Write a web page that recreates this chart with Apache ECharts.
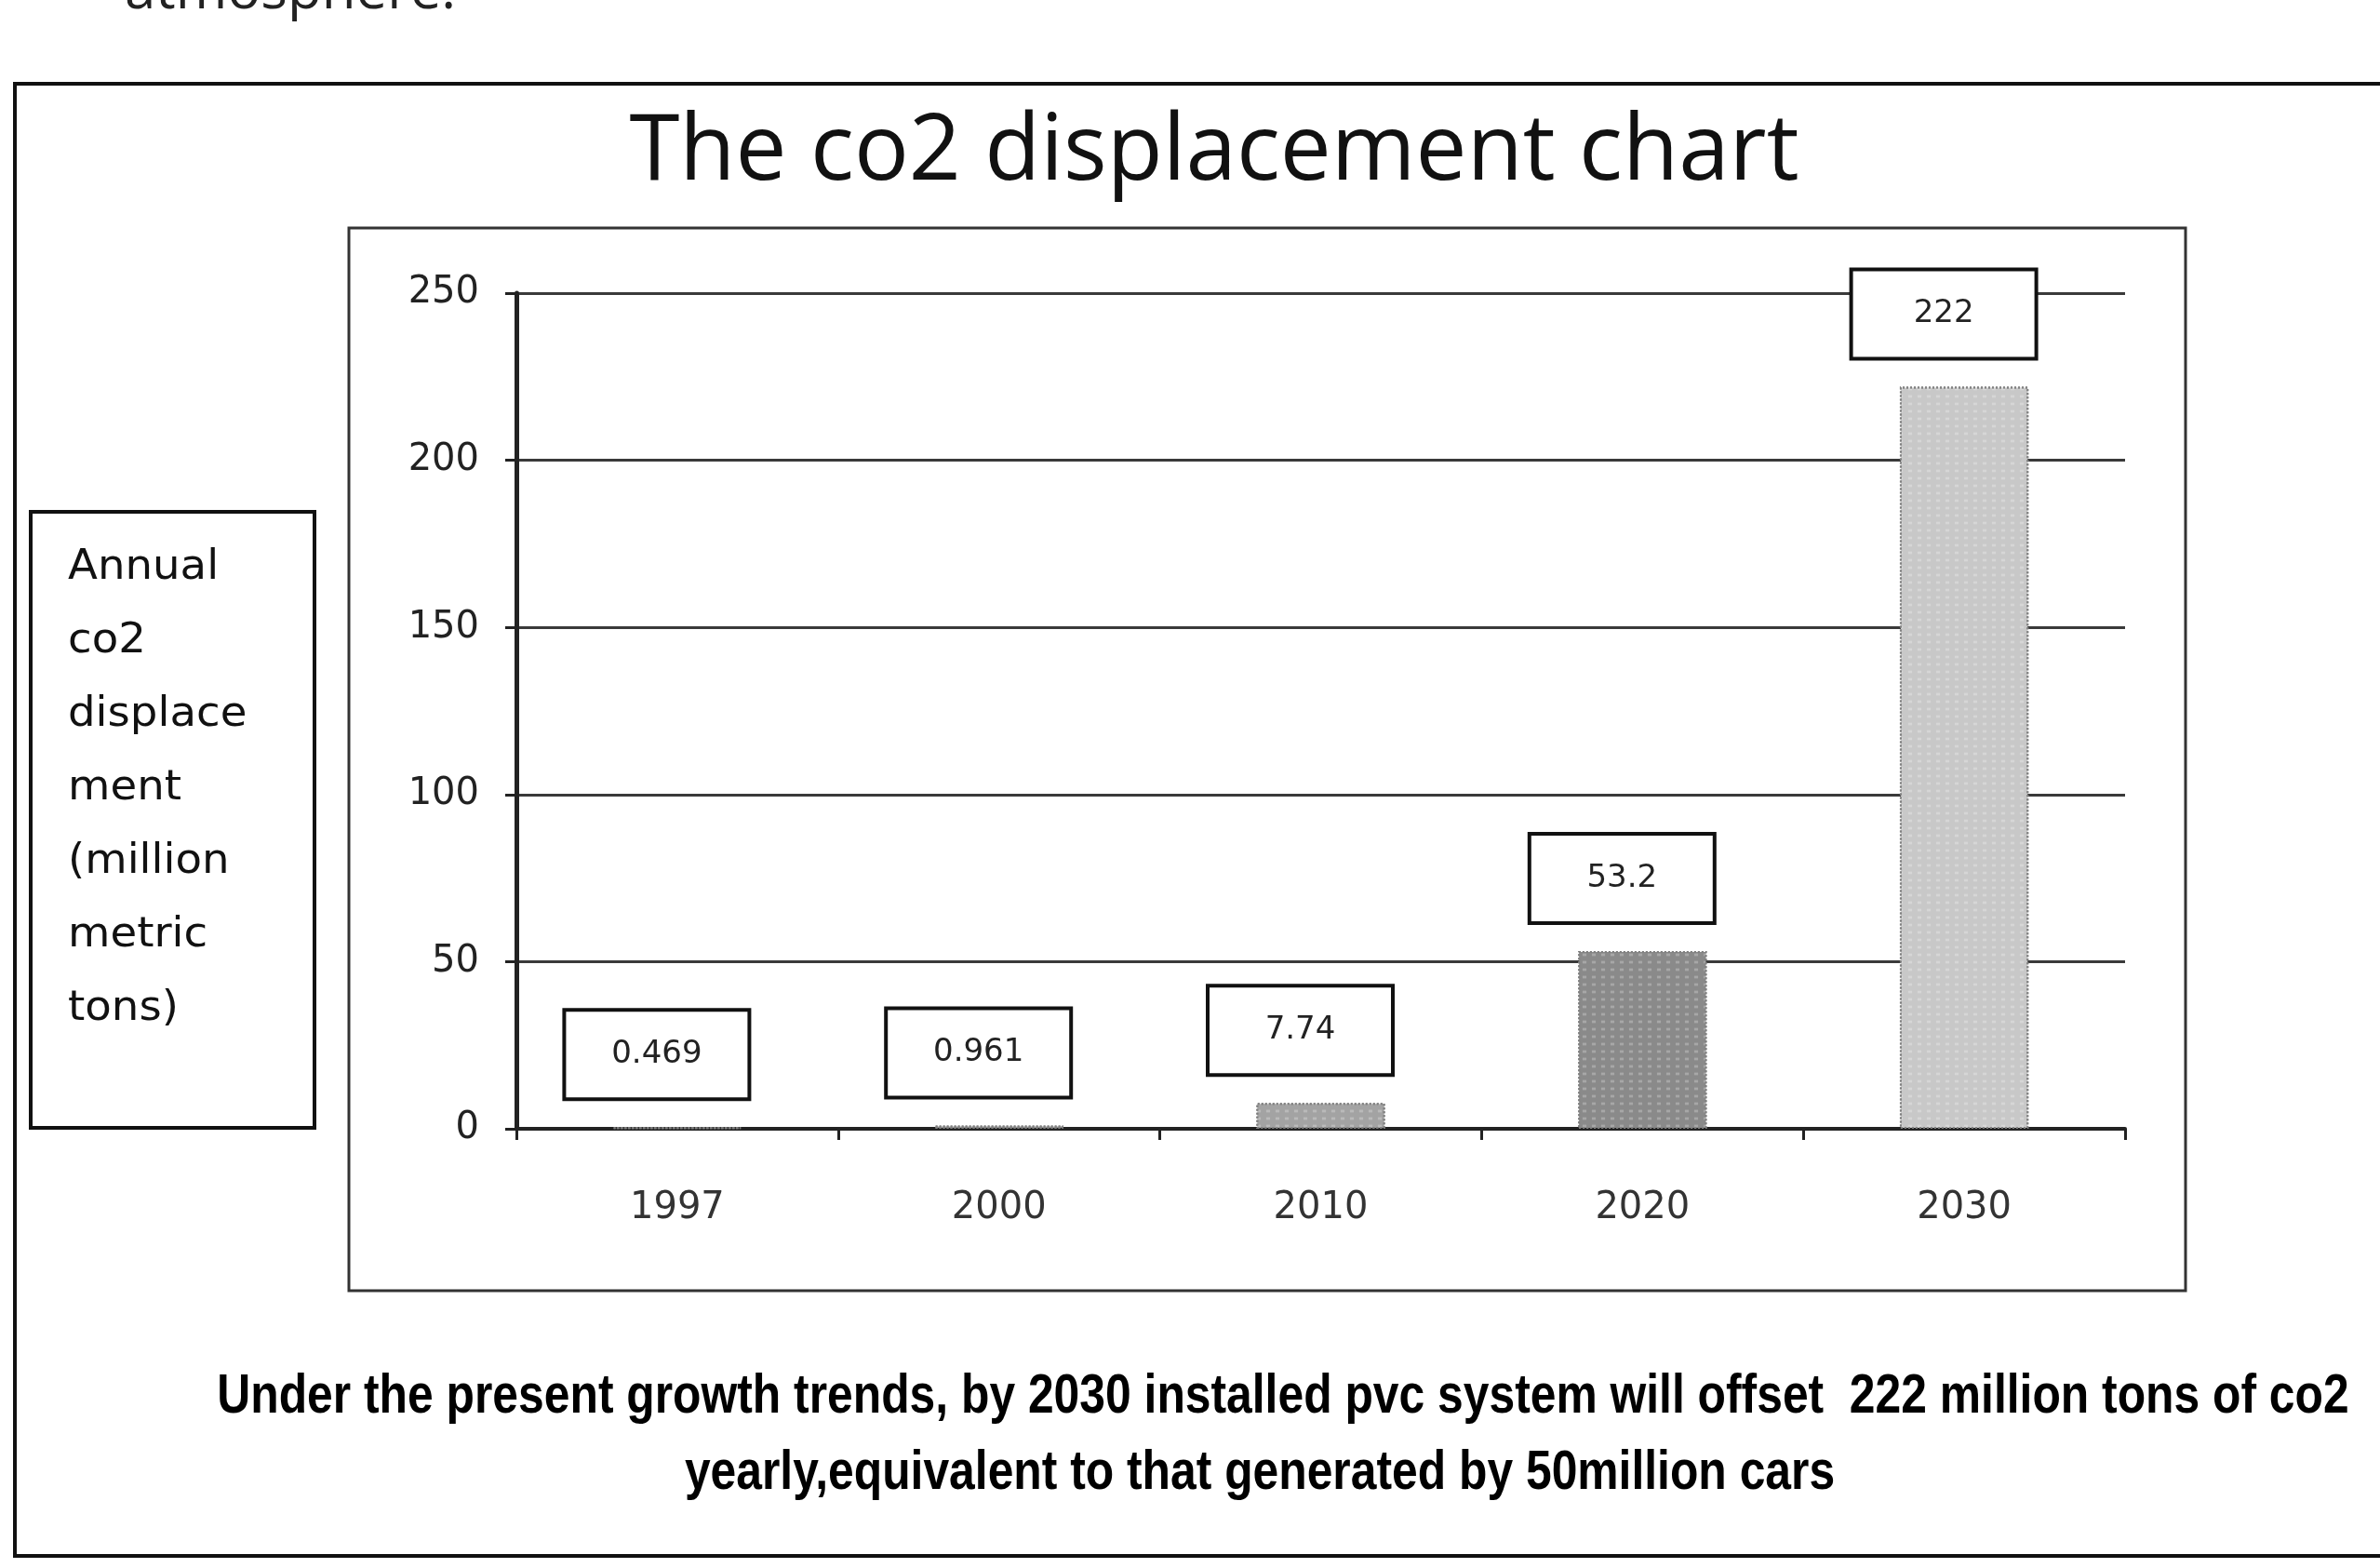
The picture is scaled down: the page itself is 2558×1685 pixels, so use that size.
<!DOCTYPE html>
<html>
<head>
<meta charset="utf-8">
<script src="https://cdn.jsdelivr.net/npm/echarts@6/dist/echarts.min.js"></script>
<style>
  html, body { margin: 0; padding: 0; background: #fff; }
  #main { width: 2558px; height: 1685px; }
</style>
</head>
<body>
<div id="main"></div>
<script>
// data
var years = ['1997', '2000', '2010', '2020', '2030'];
var displacement = [0.469, 0.961, 7.74, 53.2, 222];
var yTicks = [0, 50, 100, 150, 200, 250];

// bar fills (scan looks grey / dotted)
var barColors = ['#9a9a9a', '#9a9a9a', '#a3a3a3', '#8a8a8a', '#c8c8c8'];

var chart = echarts.init(document.getElementById('main'));

var option = {
  backgroundColor: '#fff',
  animation: false,
  grid: {
    left: 555,
    right: 274,
    top: 315,
    bottom: 472
  },
  xAxis: {
    type: 'category',
    data: years,
    axisLine: { lineStyle: { color: '#222', width: 4 } },
    axisTick: { show: true, length: 12, lineStyle: { color: '#222', width: 3 } },
    axisLabel: {
      margin: 66,
      fontSize: 40,
      fontFamily: 'DejaVu Sans',
      color: '#333'
    }
  },
  yAxis: {
    type: 'value',
    min: yTicks[0],
    max: yTicks[yTicks.length - 1],
    interval: 50,
    axisLine: { show: true, lineStyle: { color: '#222', width: 5 } },
    axisTick: { show: true, length: 12, lineStyle: { color: '#222', width: 3 } },
    axisLabel: {
      margin: 40,
      fontSize: 40,
      fontFamily: 'DejaVu Sans',
      color: '#222'
    },
    splitLine: { lineStyle: { color: '#3a3a3a', width: 3 } }
  },
  series: [{
    type: 'bar',
    data: displacement,
    barWidth: '40%',
    itemStyle: {
      color: function (p) { return barColors[p.dataIndex]; },
      borderColor: '#808080',
      borderWidth: 2,
      borderType: 'dotted',
      decal: {
        symbol: 'rect',
        symbolSize: 0.7,
        dashArrayX: [[6, 4]],
        dashArrayY: [4, 4],
        color: 'rgba(255,255,255,0.25)'
      }
    },
    label: {
      show: true,
      position: 'top',
      distance: 78,
      offset: [-22, 0],
      width: 195,
      height: 92,
      lineHeight: 92,
      align: 'center',
      verticalAlign: 'middle',
      fontSize: 34,
      fontFamily: 'DejaVu Sans',
      color: '#222',
      backgroundColor: '#fff',
      borderColor: '#111',
      borderWidth: 4,
      formatter: function (p) { return String(p.value); }
    }
  }],
  graphic: [
    // cut-off text at top of the page
    {
      type: 'text', x: 134, y: 22,
      style: { text: 'atmosphere.', font: '60px "Open Sans"', fill: '#222', textVerticalAlign: 'bottom' }
    },
    // outer frame
    {
      type: 'rect', shape: { x: 16, y: 90, width: 2620, height: 1582 },
      style: { fill: 'none', stroke: '#111', lineWidth: 4 }, z: -1
    },
    // chart frame
    {
      type: 'rect', shape: { x: 375, y: 245, width: 1974, height: 1142 },
      style: { fill: 'none', stroke: '#333', lineWidth: 3 }, z: -1
    },
    // title
    {
      type: 'text', x: 1305, y: 165, scaleX: 1.0,
      style: {
        text: 'The co2 displacement chart',
        font: '98px "Open Sans"', fill: '#111',
        textAlign: 'center', textVerticalAlign: 'middle'
      }
    },
    // y axis name box
    {
      type: 'rect', shape: { x: 33, y: 550, width: 305, height: 662 },
      style: { fill: '#fff', stroke: '#111', lineWidth: 4 }
    },
    {
      type: 'text', x: 73, y: 571, scaleX: 1.06,
      style: {
        text: 'Annual\nco2\ndisplace\nment\n(million\nmetric\ntons)',
        font: '44px "DejaVu Sans"', fill: '#111', lineHeight: 79,
        textAlign: 'left', textVerticalAlign: 'top'
      }
    },
    // caption
    {
      type: 'text', x: 1379, y: 1501, scaleX: 0.83,
      style: {
        text: 'Under the present growth trends, by 2030 installed pvc system will offset  222 million tons of co2',
        font: 'bold 60px "Liberation Sans"', fill: '#000',
        textAlign: 'center', textVerticalAlign: 'middle'
      }
    },
    {
      type: 'text', x: 1354, y: 1583, scaleX: 0.83,
      style: {
        text: 'yearly,equivalent to that generated by 50million cars',
        font: 'bold 60px "Liberation Sans"', fill: '#000',
        textAlign: 'center', textVerticalAlign: 'middle'
      }
    }
  ]
};

chart.setOption(option);
</script>
</body>
</html>
